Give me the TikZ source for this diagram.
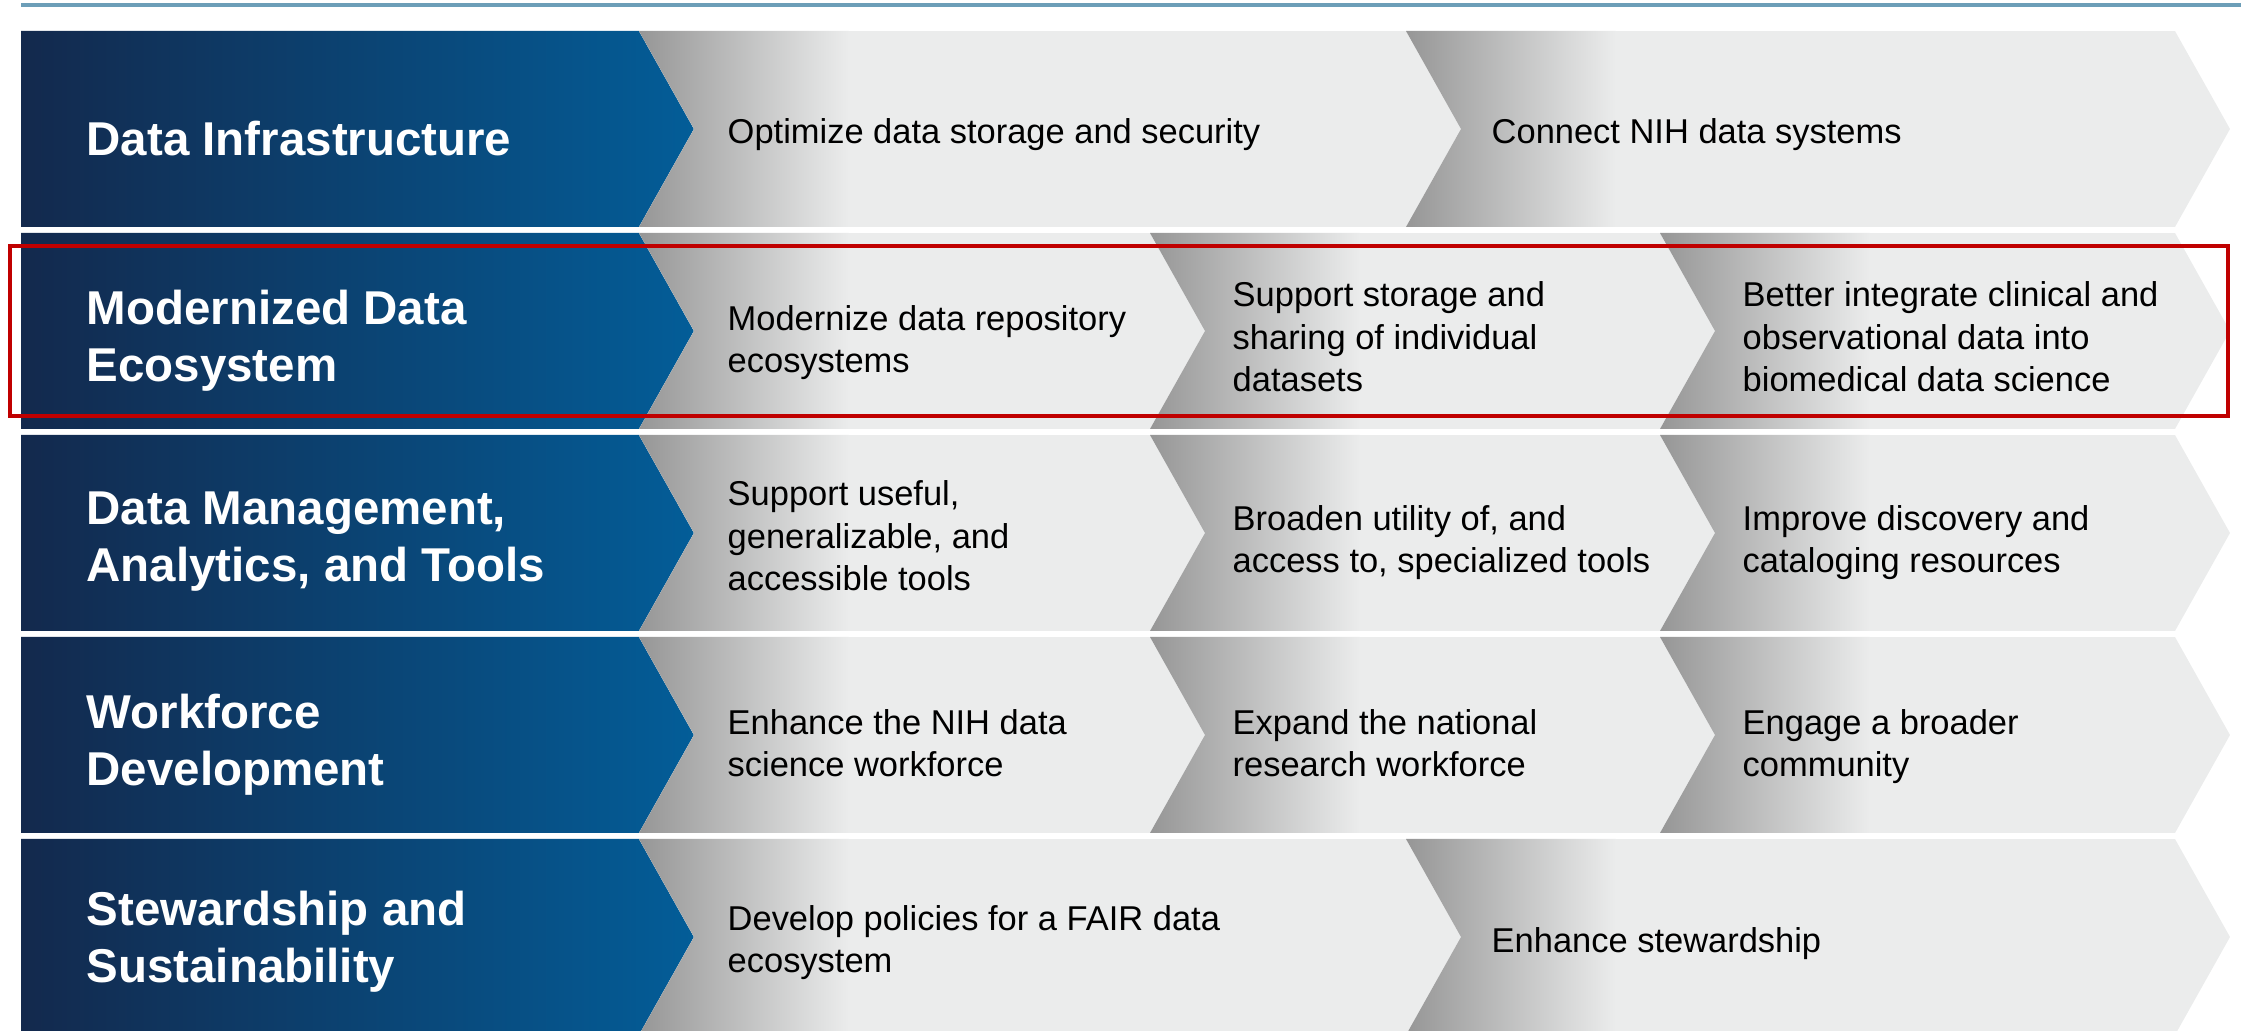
\documentclass[tikz,border=0pt]{standalone}
\usepackage{fontspec}
\setmainfont{Liberation Sans}
\usepackage{xcolor}
\usepackage{tikz}
\definecolor{navyl}{HTML}{13294D}
\definecolor{navyr}{HTML}{035D98}
\definecolor{stepc}{HTML}{EBECEC}
\definecolor{shadec}{HTML}{969696}
\definecolor{midc}{HTML}{D6D7D7}
\definecolor{rulec}{HTML}{6C9EB8}
\definecolor{focusc}{HTML}{C00000}

% one grey chevron: left x, right x, row top
\newcommand\graychev[3]{%
  \begin{scope}
    \clip (#1,#3) -- (#2,#3) -- (#2+55,#3+98) -- (#2,#3+196)
      -- (#1,#3+196) -- (#1+55,#3+98) -- cycle;
    \fill[stepc] (#1,#3) rectangle (#2+55,#3+196);
    \shade[left color=shadec, middle color=midc, right color=stepc]
      (#1,#3) rectangle (#1+210,#3+196);
  \end{scope}}

\begin{document}
\begin{tikzpicture}[
    x=0.01cm, y=-0.01cm,
    head/.style={left color=navyl, right color=navyr},
    title/.style={anchor=west, inner sep=0pt, align=left, text=white,
      font=\fontsize{13.5}{16.2}\selectfont\bfseries,
      execute at begin node=\strut, execute at end node=\strut},
    goal/.style={anchor=west, inner sep=0pt, align=left,
      font=\fontsize{9.8}{12}\selectfont,
      execute at begin node=\strut, execute at end node=\strut},
    topline/.style={draw=rulec, line width=0.045cm},
    focus/.style={draw=focusc, line width=0.04cm}
  ]
  \useasboundingbox (0,0) rectangle (2241,1031);

  % --- rule
  \draw[topline] (21,5) -- (2241,5);

  % --- blue heads
  \foreach \t in {31,233,435,637,839}
    \shade[head] (21,\t) -- (639,\t) -- (694,\t+98) -- (639,\t+196)
      -- (21,\t+196) -- cycle;

  % --- grey steps
  \foreach \t in {31,839}
    \foreach \a/\b in {639/1406,1406/2175}
      \graychev{\a}{\b}{\t};
  \foreach \t in {233,435,637}
    \foreach \a/\b in {639/1150,1150/1660,1660/2175}
      \graychev{\a}{\b}{\t};

  % --- row 1
  \node[title] (infra) at (86,144) {Data Infrastructure};
  \node[goal] (infra1) at (727,135) {Optimize data storage and security};
  \node[goal] (infra2) at (1491,135) {Connect NIH data systems};

  % --- row 2
  \node[title] (eco) at (86,344) {Modernized Data\\Ecosystem};
  \node[goal] (eco1) at (727,345) {Modernize data repository\\ecosystems};
  \node[goal] (eco2) at (1232,343) {Support storage and\\sharing of individual\\datasets};
  \node[goal] (eco3) at (1742,343) {Better integrate clinical and\\observational data into\\biomedical data science};

  % --- row 3
  \node[title] (tools) at (86,545) {Data Management,\\Analytics, and Tools};
  \node[goal] (tools1) at (727,542) {Support useful,\\generalizable, and\\accessible tools};
  \node[goal] (tools2) at (1232,545) {Broaden utility of, and\\access to, specialized tools};
  \node[goal] (tools3) at (1742,545) {Improve discovery and\\cataloging resources};

  % --- row 4
  \node[title] (work) at (86,748) {Workforce\\Development};
  \node[goal] (work1) at (727,749) {Enhance the NIH data\\science workforce};
  \node[goal] (work2) at (1232,749) {Expand the national\\research workforce};
  \node[goal] (work3) at (1742,749) {Engage a broader\\community};

  % --- row 5
  \node[title] (stew) at (86,945) {Stewardship and\\Sustainability};
  \node[goal] (stew1) at (727,945) {Develop policies for a FAIR data\\ecosystem};
  \node[goal] (stew2) at (1491,944) {Enhance stewardship};

  % --- highlight
  \draw[focus] (10,246) rectangle (2228,416);

\end{tikzpicture}
\end{document}
